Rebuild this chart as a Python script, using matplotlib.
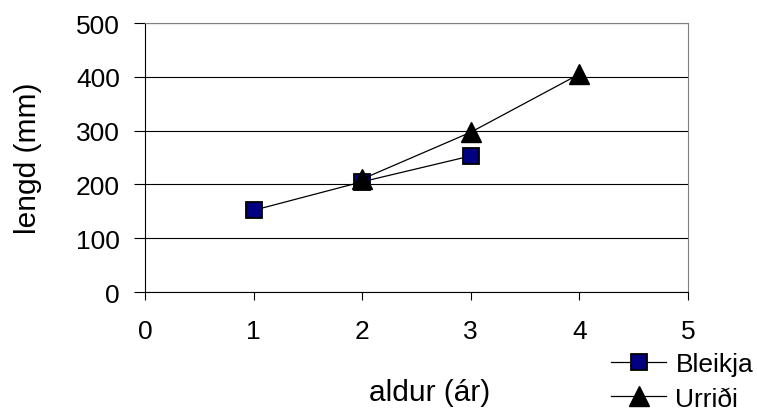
import matplotlib.pyplot as plt
from matplotlib.lines import Line2D

plt.rcParams['font.family'] = ['Liberation Sans', 'DejaVu Sans']

# data
bleikja_x = [1, 2, 3]
bleikja_y = [152, 205, 253]
urridi_x = [2, 3, 4]
urridi_y = [210, 297, 405]
x_ticks = [0, 1, 2, 3, 4, 5]
y_ticks = [0, 100, 200, 300, 400, 500]

fig = plt.figure(figsize=(7.57, 4.14), dpi=100)
ax = fig.add_axes([0.1916, 0.292, 0.717, 0.65])

ax.plot(bleikja_x, bleikja_y, color='black', lw=0.9, marker='s', ms=12,
        mfc='#000080', mec='black', mew=1.3, zorder=3)
ax.plot(urridi_x, urridi_y, color='black', lw=0.9, marker='^', ms=14,
        mfc='black', mec='black', zorder=4)

ax.set_xlim(0, 5)
ax.set_ylim(0, 500)
ax.set_xticks(x_ticks)
ax.set_yticks(y_ticks)
ax.yaxis.grid(True, color='black', lw=0.8)
ax.set_axisbelow(True)

for s in ['top', 'right']:
    ax.spines[s].set_color('#808080')
for s in ['left', 'bottom']:
    ax.spines[s].set_color('black')
ax.tick_params(axis='x', direction='out', length=6, width=0.8, labelsize=19, pad=13)
ax.tick_params(axis='y', direction='out', length=8, width=0.8, labelsize=19, pad=10)

ax.set_xlabel('aldur (ár)', fontsize=21.5)
ax.xaxis.set_label_coords(0.525, -0.32)
ax.set_ylabel('lengd (mm)', fontsize=21.5)
ax.yaxis.set_label_coords(-0.19, 0.5)

handles = [
    Line2D([], [], color='black', lw=0.9, marker='s', ms=12, mfc='#000080', mec='black', mew=1.3),
    Line2D([], [], color='black', lw=0.9, marker='^', ms=15, mfc='black', mec='black'),
]
fig.legend(handles, ['Bleikja', 'Urriði'], loc='upper left',
           bbox_to_anchor=(611 / 757, 1 - 353 / 414), frameon=False, fontsize=19,
           handlelength=2.1, handletextpad=0.34, labelspacing=0.4,
           borderpad=0, borderaxespad=0)

fig.savefig('out.png', dpi=100)
